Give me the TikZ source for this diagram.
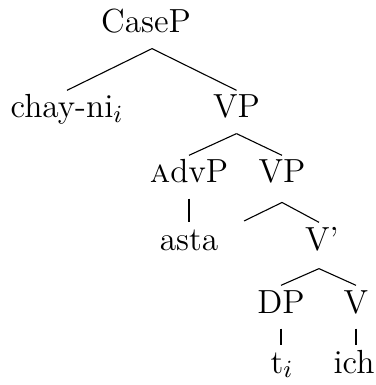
\documentclass[tikz,border=0pt]{standalone}
\begin{document}
\begin{tikzpicture}[x=0.365pt,y=-0.365pt,
  lab/.style={anchor=base,font=\fontsize{12.2}{14}\selectfont,text height=7.6pt,text depth=3.2pt,inner xsep=0pt,inner ysep=2.3pt},
  br/.style={line width=0.4pt}]
\useasboundingbox (0,0) rectangle (375,385);
\node[lab] (casep) at (146,33) {CaseP};
\node[lab] (chay) at (67,118) {chay-ni$_i$};
\node[lab] (vp1) at (236.5,118) {VP};
\node[lab] (advp) at (189,183) {\textsc{a}dvP};
\node[lab] (vp2) at (282,183) {VP};
\node[lab] (asta) at (189,250) {asta};
\coordinate (empty) at (244,221);
\node[lab] (vbar) at (322,250) {V'};
\node[lab] (dp) at (281,313) {DP};
\node[lab] (v) at (356,313) {V};
\node[lab] (t) at (282,373) {t$_i$};
\node[lab] (ich) at (354,373) {ich};
\draw[br] ([xshift=2.2pt]casep.south) -- (chay.north);
\draw[br] ([xshift=2.2pt]casep.south) -- (vp1.north);
\draw[br] (vp1.south) -- (advp.north);
\draw[br] (vp1.south) -- (vp2.north);
\draw[br] (advp.south) -- (asta.north);
\draw[br] ([yshift=-1.4pt]vp2.south) -- (empty);
\draw[br] ([yshift=-1.4pt]vp2.south) -- ([xshift=-1.1pt]vbar.north);
\draw[br] ([xshift=-1.1pt,yshift=-1.1pt]vbar.south) -- (dp.north);
\draw[br] ([xshift=-1.1pt,yshift=-1.1pt]vbar.south) -- (v.north);
\draw[br] (dp.south) -- (dp.south |- t.north);
\draw[br] (v.south) -- (v.south |- ich.north);
\end{tikzpicture}
\end{document}
